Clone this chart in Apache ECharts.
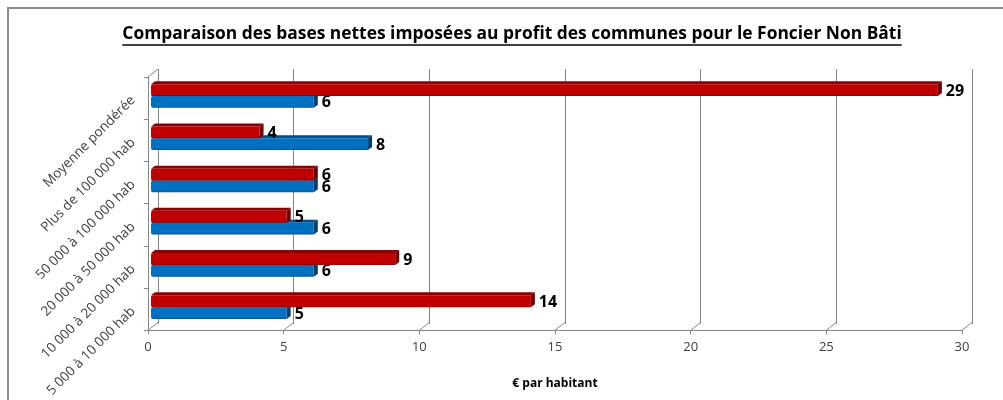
<!DOCTYPE html>
<html>
<head>
<meta charset="utf-8">
<script src="https://cdn.jsdelivr.net/npm/echarts@6/dist/echarts.min.js"></script>
<style>
  html, body { margin: 0; padding: 0; background: #fff; }
  #chart { width: 1003px; height: 400px; }
</style>
</head>
<body>
<div id="chart"></div>
<script>
// categories from top to bottom
const categories = ['Moyenne pondérée', 'Plus de 100 000 hab', '50 000 à 100 000 hab',
  '20 000 à 50 000 hab', '10 000 à 20 000 hab', '5 000 à 10 000 hab']
const redValues = [29, 4, 6, 5, 9, 14]
const blueValues = [6, 8, 6, 6, 6, 5]
const xTicks = [0, 5, 10, 15, 20, 25, 30]

const titleText = 'Comparaison des bases nettes imposées au profit des communes pour le Foncier Non Bâti'
const titleSize = 17.4
const titleFont = 'bold ' + titleSize + 'px "Open Sans"'
const AXIS = '#868686'
const DX = 10, DY = 8 // profondeur du plan arrière

const chart = echarts.init(document.getElementById('chart'))

// largeur du titre pour le soulignement
const ctx = document.createElement('canvas').getContext('2d')
ctx.font = titleFont
const titleW = ctx.measureText(titleText).width
const titleX = 512 - titleW / 2

// barre 3D : face avant, dessus, côté
const bar3d = (front, top, side, offset) => (params, api) => {
  const idx = api.value(0)
  const val = api.value(1)
  const c = api.coord([val, idx])
  const x0 = api.coord([0, idx])[0] + 3
  const band = api.size([0, 1])[1]
  const h = band * 0.28
  const y = c[1] + band * offset
  const x1 = c[0] + 3
  const d = 4, e = 3
  return {
    type: 'group',
    children: [
      { type: 'polygon', shape: { points: [[x0, y], [x0 + d, y - e], [x1 + d, y - e], [x1, y]] }, style: { fill: top } },
      { type: 'polygon', shape: { points: [[x1, y], [x1 + d, y - e], [x1 + d, y + h - e], [x1, y + h]] }, style: { fill: side } },
      { type: 'rect', shape: { x: x0, y: y, width: x1 - x0, height: h, r: [2, 0, 0, 2] },
        style: { fill: new echarts.graphic.LinearGradient(0, 0, 0, 1, [
          { offset: 0, color: front }, { offset: 0.85, color: front }, { offset: 1, color: top }]) } },
      { type: 'text', style: { text: String(val), x: x1 + d + 4, y: y + h / 2 + 1, verticalAlign: 'middle',
        font: 'bold 16px "Open Sans"', fill: '#000' } }
    ]
  }
}

const diagonals = (params, api) => {
  const v = api.value(0)
  const p = api.coord([v, 0])
  const yb = params.coordSys.y + params.coordSys.height
  return { type: 'line', shape: { x1: p[0], y1: yb, x2: p[0] + DX, y2: yb - DY }, style: { stroke: AXIS, lineWidth: 1 } }
}

chart.setOption({
  animation: false,
  title: {
    text: titleText,
    left: titleX - 5,
    top: 21,
    textStyle: { fontFamily: 'Open Sans', fontSize: titleSize, fontWeight: 'bold', color: '#000' }
  },
  graphic: [
    { type: 'rect', shape: { x: 8, y: 8, width: 1200, height: 600 }, style: { fill: 'none', stroke: '#8a8a8a', lineWidth: 2 }, silent: true },
    { type: 'line', shape: { x1: titleX, y1: 45, x2: titleX + titleW, y2: 45 }, style: { stroke: '#000', lineWidth: 1.5 } },
    { type: 'line', shape: { x1: 148, y1: 77, x2: 148 + DX, y2: 77 - DY }, style: { stroke: AXIS, lineWidth: 1 } }
  ],
  grid: [
    { left: 148, top: 77, width: 814, height: 255 },
    { left: 148 + DX, top: 77 - DY, width: 814, height: 255 }
  ],
  xAxis: [
    {
      type: 'value', gridIndex: 0, min: 0, max: 30, interval: 5,
      name: '€ par habitant', nameLocation: 'middle', nameGap: 47,
      nameTextStyle: { fontFamily: 'Open Sans', fontSize: 12, fontWeight: 'bold', color: '#000' },
      axisLine: { show: true, lineStyle: { color: AXIS } },
      axisTick: { show: true, length: 4, lineStyle: { color: AXIS } },
      axisLabel: { color: '#404040', fontFamily: 'Open Sans', fontSize: 13, margin: 10 },
      splitLine: { show: false }
    },
    {
      type: 'value', gridIndex: 1, min: 0, max: 30, interval: 5,
      axisLine: { show: false }, axisTick: { show: false }, axisLabel: { show: false },
      splitLine: { show: true, lineStyle: { color: AXIS, width: 1 } }
    }
  ],
  yAxis: [
    {
      type: 'category', gridIndex: 0, data: categories, inverse: true,
      axisLine: { show: true, lineStyle: { color: AXIS } },
      axisTick: { show: true, length: 4, lineStyle: { color: AXIS } },
      axisLabel: { rotate: 45, color: '#404040', fontFamily: 'Open Sans', fontSize: 13.5, margin: 15 }
    },
    {
      type: 'category', gridIndex: 1, data: categories, inverse: true,
      axisLine: { show: false }, axisTick: { show: false }, axisLabel: { show: false }
    }
  ],
  series: [
    {
      type: 'custom', xAxisIndex: 0, yAxisIndex: 0,
      renderItem: diagonals, data: xTicks.map(v => [v]), encode: { x: 0 }, silent: true
    },
    {
      type: 'custom', name: 'bleu', xAxisIndex: 0, yAxisIndex: 0,
      renderItem: bar3d('#0070C0', '#004F8A', '#003E6E', -0.05),
      data: blueValues.map((v, i) => [i, v]), encode: { x: 1, y: 0 }, z: 3
    },
    {
      type: 'custom', name: 'rouge', xAxisIndex: 0, yAxisIndex: 0,
      renderItem: bar3d('#C00000', '#8C0000', '#6E0000', -0.33),
      data: redValues.map((v, i) => [i, v]), encode: { x: 1, y: 0 }, z: 4
    }
  ]
})
</script>
</body>
</html>
